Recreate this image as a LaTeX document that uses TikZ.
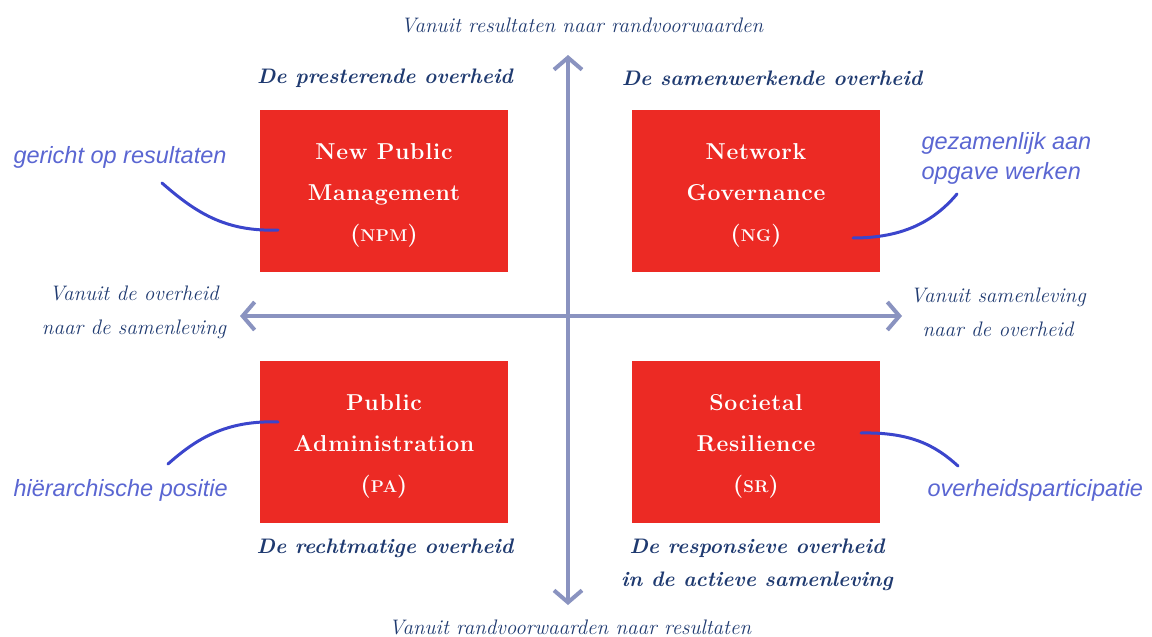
\documentclass[tikz,border=0pt]{standalone}
\usepackage{fontspec}
\usetikzlibrary{arrows.meta}
\newfontfamily\annfont{Liberation Sans}
\newfontfamily\boxfont[LetterSpace=3]{Latin Modern Roman}
\definecolor{boxred}{HTML}{EC2A24}
\definecolor{navy}{HTML}{1F3A70}
\definecolor{axisblue}{HTML}{8A93C0}
\definecolor{annblue}{HTML}{5A66D2}
\definecolor{curveblue}{HTML}{3B45CC}
\tikzset{
  quad/.style={fill=boxred, draw=none, minimum width=248pt, minimum height=162pt, inner sep=0pt},
  boxtext/.style={text=white, font=\boxfont\fontsize{23}{41}\selectfont\bfseries, align=center},
  title/.style={text=navy, font=\fontsize{21}{33}\selectfont\bfseries\itshape, align=center},
  axislabel/.style={text=navy, font=\fontsize{21}{34}\selectfont\itshape, align=center},
  ann/.style={text=annblue, font=\annfont\fontsize{23.5}{30}\selectfont\itshape, align=left},
  axis/.style={draw=axisblue, line width=4pt, {Straight Barb[length=12pt,width=28pt,line width=4pt]}-{Straight Barb[length=12pt,width=28pt,line width=4pt]}},
  curve/.style={draw=curveblue, line width=3pt, line cap=round}
}
\newcommand{\fsc}[1]{{\fontsize{17}{17}\selectfont #1}}
\begin{document}
\begin{tikzpicture}[x=1pt,y=-1pt]
\useasboundingbox (0,0) rectangle (1152,637);
% axes
\coordinate (top) at (568,55);
\coordinate (bot) at (568,605);
\coordinate (lft) at (240,316);
\coordinate (rgt) at (902,316);
\draw[axis] (top) -- (bot);
\draw[axis] (lft) -- (rgt);
% boxes
\node[quad] (npm) at (384,191) {};
\node[quad] (ng) at (756,191) {};
\node[quad] (pa) at (384,442) {};
\node[quad] (sr) at (756,442) {};
\node[boxtext] (npmt) at ([yshift=-4pt]npm.center) {New Public\\Management\\(\fsc{NPM})};
\node[boxtext] (ngt) at ([yshift=-4pt]ng.center) {Network\\Governance\\(\fsc{NG})};
\node[boxtext] (pat) at ([yshift=-4pt]pa.center) {Public\\Administration\\(\fsc{PA})};
\node[boxtext] (srt) at ([yshift=-4pt]sr.center) {Societal\\Resilience\\(\fsc{SR})};
% titles
\node[title] (t1) at (385,78) {De presterende overheid};
\node[title] (t2) at (772,78) {De samenwerkende overheid};
\node[title] (t3) at (385,548) {De rechtmatige overheid};
\node[title] (t4) at (757,565) {De responsieve overheid\\in de actieve samenleving};
% axis labels
\node[axislabel] (a1) at (582,25) {Vanuit resultaten naar randvoorwaarden};
\node[axislabel] (a2) at (570,627) {Vanuit randvoorwaarden naar resultaten};
\node[axislabel] (a3) at (134,312) {Vanuit de overheid\\naar de samenleving};
\node[axislabel] (a4) at (998,312) {Vanuit samenleving\\naar de overheid};
% annotations
\node[ann, anchor=west] (n1) at (10,157) {gericht op resultaten};
\node[ann, anchor=west] (n2) at (918,158) {gezamenlijk aan\\opgave werken};
\node[ann, anchor=west] (n3) at (10,490) {hiërarchische positie};
\node[ann, anchor=west] (n4) at (924,490) {overheidsparticipatie};
\coordinate (c1a) at (278,230); \coordinate (c1b) at (162,183);
\coordinate (c2a) at (853,238); \coordinate (c2b) at (957,194);
\coordinate (c3a) at (278,422); \coordinate (c3b) at (168,464);
\coordinate (c4a) at (861,433); \coordinate (c4b) at (958,466);
\draw[curve] (c1a) .. controls (225,232) and (195,212) .. (c1b);
\draw[curve] (c2a) .. controls (905,238) and (935,220) .. (c2b);
\draw[curve] (c3a) .. controls (225,420) and (195,440) .. (c3b);
\draw[curve] (c4a) .. controls (910,432) and (935,445) .. (c4b);
\end{tikzpicture}
\end{document}
